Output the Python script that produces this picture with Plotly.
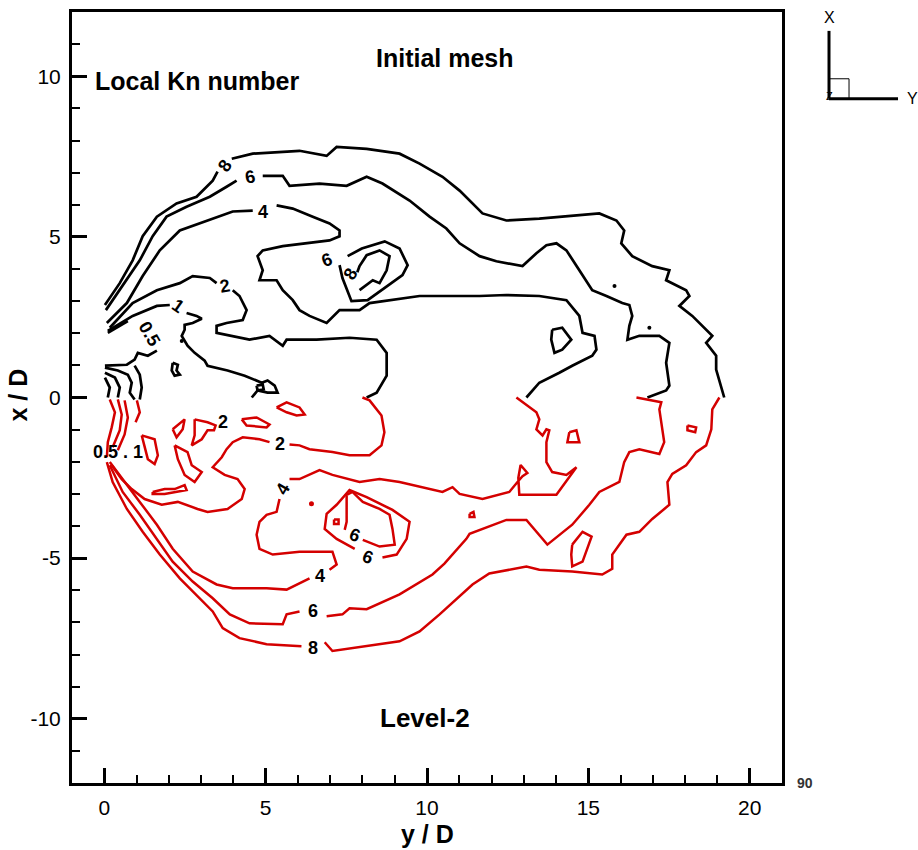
import plotly.graph_objects as go

# ---------------- data: contour lines, points are (y/D, x/D); None = label gap ----------------
black_8 = [(0.02,2.88),(0.48,3.56),(0.88,4.27),(1.19,5.02),(1.63,5.63),(2.24,6.04),(2.86,6.25),(3.36,6.75),(3.51,7.03),None,
           (3.95,7.43),(4.60,7.59),(6.05,7.68),(6.89,7.52),(7.20,7.80),(8.13,7.74),(9.15,7.59),(9.77,7.28),(10.48,6.87),
           (11.01,6.44),(11.72,5.73),(12.46,5.51),(13.48,5.57),(15.34,5.73),(15.87,5.51),(16.11,5.20),(16.02,4.80),
           (16.36,4.40),(16.98,4.09),(17.51,3.96),(17.41,3.65),(18.03,3.34),(18.13,3.16),(17.82,2.85),(18.22,2.54),
           (18.65,2.11),(18.84,1.92),(18.65,1.70),(18.96,1.30),(18.96,0.87),(19.21,0.0)]
black_6 = [(0.05,2.72),(0.57,3.47),(1.10,4.27),(1.50,5.02),(1.93,5.63),(2.55,5.94),(3.27,6.25),(3.79,6.56),(4.10,6.75),None,
           (4.91,6.90),(5.53,6.90),(5.74,6.59),(6.67,6.66),(7.51,6.59),(8.13,6.87),(8.62,6.66),(9.46,6.13),(10.08,5.63),
           (10.60,5.26),(11.01,4.80),(11.63,4.40),(12.15,4.24),(12.96,4.09),(13.39,4.49),(13.70,4.74),(14.01,4.80),
           (14.32,4.58),(14.72,3.96),(15.12,3.34),(15.56,3.16),(16.05,2.94),(16.27,2.88),(16.36,2.54),(16.27,2.23),
           (16.21,1.80),(16.58,1.92),(17.20,1.92),(17.51,1.70),(17.41,1.08),(17.51,0.37),(17.41,0.22),(16.83,0.0)]
black_4 = [(0.08,2.32),(0.70,2.94),(1.19,3.78),(1.72,4.58),(2.34,5.20),(3.17,5.51),(3.98,5.79),(4.60,5.82),None,
           (5.34,5.98),(5.84,5.88),(6.46,5.63),(6.98,5.42),(7.29,5.20),(7.29,5.02),(6.98,4.89),(6.27,4.80),(5.53,4.71),
           (4.91,4.58),(4.75,4.40),(4.91,3.96),(4.81,3.65),(5.34,3.65),(5.53,3.34),(5.84,3.03),(6.05,2.72),(6.36,2.54),
           (6.89,2.32),(7.29,2.72),(7.91,2.72),(8.22,2.94),(8.93,3.03),(9.77,3.16),(10.48,3.16),(11.63,3.16),
           (12.46,3.19),(13.48,3.16),(14.32,3.03),(14.72,2.54),(14.82,2.01),(15.19,1.92),(15.25,1.49),(15.12,1.30),
           (14.50,0.99),(14.10,0.77),(13.48,0.46),(13.08,0.0)]
black_2 = [(0.17,2.17),(0.88,2.94),(1.63,3.34),(2.34,3.56),(2.74,3.78),(3.27,3.72),(3.48,3.56),None,
           (3.98,3.34),(4.19,3.16),(4.41,2.72),(4.29,2.41),(3.79,2.32),(3.48,2.23),(3.48,2.01),(3.89,1.92),(4.50,1.80),
           (5.12,1.92),(5.53,1.61),(5.65,1.80),(6.58,1.80),(7.60,1.86),(8.44,1.80),(8.75,1.39),(8.75,0.68),
           (8.44,0.15),(8.13,0.0)]
black_1 = [(0.11,2.07),(0.88,2.54),(1.63,2.85),(2.03,2.88),None,
           (2.55,2.63),(2.86,2.54),(3.02,2.45),(2.74,2.32),(2.49,2.26),(2.49,2.11),(2.40,1.92),(2.58,1.61),(2.80,1.39),
           (3.11,1.15),(3.20,0.99),(3.82,0.84),(4.35,0.68),(4.88,0.46),(5.06,0.53),(5.28,0.37),(5.37,0.15),
           (5.06,0.15),(4.75,0.22),(4.57,0.0)]
black_05 = [(0.11,2.01),(0.73,2.38),None,(1.63,1.46),(1.35,1.30),(1.04,1.39),(0.94,1.18),(0.70,1.02),(0.02,0.99)]
black_root_a = [(0.02,0.93),(0.42,0.84),(0.73,0.71),(0.85,0.46),(0.79,0.15),(0.94,-0.06)]
black_root_b = [(0.02,0.77),(0.33,0.62),(0.48,0.31),(0.42,0.0)]
black_root_c = [(0.02,0.62),(0.17,0.31),(0.11,0.0)]
black_root_d = [(0.94,0.99),(1.10,0.71),(1.16,0.31),(1.10,-0.06)]
black_isle_6 = [(7.29,4.12),(7.38,3.72),(7.66,3.00),(8.16,3.03),(8.69,3.41),(9.24,3.81),(9.40,4.12),(9.15,4.64),
                (8.69,4.86),(7.98,4.64),(7.54,4.40)]
black_isle_8 = [(7.91,3.34),(8.32,3.65),(8.53,3.56),(8.75,3.96),(8.84,4.40),(8.53,4.58),(8.13,4.43),(7.91,4.09),(7.84,3.90)]
black_loop_r = [(13.88,2.11),(14.19,2.17),(14.47,1.80),(14.19,1.49),(13.95,1.39),(13.85,1.80),(13.88,2.11)]
black_blob_a = [(2.12,1.08),(2.28,1.02),(2.24,0.84),(2.34,0.71),(2.18,0.68),(2.09,0.84),(2.12,1.08)]
black_blob_b = [(4.72,0.37),(4.91,0.40),(4.94,0.25),(4.75,0.22),(4.72,0.37)]
black_dots = [(15.81,3.47),(16.89,2.17),(2.40,1.76)]

red_8 = [(19.06,0.0),(18.84,-0.37),(18.81,-0.99),(18.65,-1.49),(18.34,-1.70),(18.03,-2.11),(17.60,-2.38),(17.45,-2.63),
         (17.51,-3.34),(16.98,-3.78),(16.58,-4.18),(16.18,-4.27),(15.74,-4.89),(15.74,-5.33),(15.43,-5.51),(14.50,-5.42),
         (13.48,-5.36),(13.08,-5.26),(11.93,-5.48),(11.41,-5.82),(10.39,-6.75),(9.77,-7.28),(9.15,-7.59),(7.60,-7.80),
         (7.07,-7.89),(6.83,-7.62),None,(6.11,-7.74),(5.03,-7.68),(4.19,-7.49),(3.67,-7.18),(3.36,-6.66),(2.96,-6.25),
         (2.34,-5.63),(1.72,-4.89),(1.19,-4.18),(0.70,-3.47),(0.26,-2.63),(0.08,-2.01)]
red_6 = [(0.17,-2.11),(0.57,-2.94),(1.10,-3.65),(1.63,-4.40),(2.12,-5.11),(2.74,-5.73),(3.36,-6.25),(3.89,-6.75),
         (4.50,-7.03),(5.53,-7.06),(5.65,-6.75),(6.05,-6.66),None,(6.89,-6.81),(7.38,-6.75),(7.60,-6.56),(8.13,-6.59),
         (9.15,-6.13),(10.17,-5.51),(10.54,-5.17),(11.22,-4.40),(11.32,-4.24),(12.46,-3.81),(13.08,-3.81),(13.73,-4.58),
         (14.50,-3.96),(15.03,-3.34),(15.34,-2.94),(15.96,-2.63),(16.11,-2.01),(16.27,-1.70),(16.58,-1.61),(17.20,-1.76),
         (17.35,-1.39),(17.20,-0.37),(17.26,-0.15),(16.49,0.0)]
red_4 = [(12.77,0.0),(13.39,-0.46),(13.48,-0.68),(13.39,-0.99),(13.58,-1.18),(13.70,-0.99),(13.79,-1.02),(13.70,-1.39),
         (13.70,-2.01),(13.88,-2.32),(14.32,-2.41),(14.63,-2.17),(14.01,-3.03),(12.86,-3.03),(12.83,-2.50),(12.90,-2.10),
         (13.11,-2.35),(12.96,-2.45),(12.83,-2.60),(12.55,-2.94),(11.72,-3.16),(11.01,-3.00),(10.79,-2.79),(10.48,-2.94),
         (9.15,-2.63),(8.53,-2.54),(7.91,-2.63),(7.07,-2.41),(6.67,-2.26),(6.05,-2.54),(5.74,-2.54),None,
         (5.43,-3.16),(5.34,-3.56),(5.03,-3.65),(4.81,-3.87),(4.72,-4.27),(4.81,-4.71),(5.22,-4.89),(6.05,-4.80),
         (7.07,-4.80),(7.20,-5.20),(6.98,-5.36),None,(6.36,-5.63),(5.65,-5.98),(5.03,-5.94),(3.98,-5.94),(3.48,-5.82),
         (2.74,-5.42),(2.12,-4.71),(1.63,-3.96),(1.10,-3.25),(0.57,-2.54),(0.17,-2.01)]
red_2 = [(8.00,0.0),(8.22,-0.09),(8.59,-0.56),(8.68,-1.08),(8.59,-1.49),(8.22,-1.80),(7.60,-1.80),(7.07,-1.70),
         (6.36,-1.61),(6.05,-1.49),(5.74,-1.46),None,(5.12,-1.39),(4.81,-1.30),(4.29,-1.24),(3.98,-1.39),(3.79,-1.61),
         (3.64,-1.86),(3.36,-2.17),(3.73,-2.41),(4.13,-2.54),(4.35,-2.85),(4.26,-3.16),(3.82,-3.47),(3.20,-3.56),
         (2.89,-3.47),(2.28,-3.25),(1.78,-3.34),(1.25,-3.16),(0.85,-2.85),(0.54,-2.54),(0.23,-2.11)]
red_root_a = [(0.17,-0.06),(0.33,-0.46),(0.23,-0.93),(0.11,-1.39),(0.08,-1.86)]
red_root_b = [(0.42,-0.06),(0.54,-0.53),(0.48,-1.02),(0.26,-1.55)]
red_root_c = [(0.63,-0.09),(0.73,-0.62),(0.63,-1.15),(0.42,-1.64)]
red_root_d = [(1.01,-0.09),(1.10,-0.46),(0.97,-0.77)]
red_isle_a = [(1.16,-1.18),(1.56,-1.30),(1.66,-1.80),(1.56,-2.07),(1.35,-1.92),(1.25,-1.49),(1.16,-1.18)]
red_isle_b = [(2.12,-0.99),(2.49,-0.68),(2.43,-0.99),(2.24,-1.24),(2.12,-0.99)]
red_isle_c = [(2.80,-0.68),(3.20,-0.77),(3.45,-0.87),(3.40,-1.02),(3.20,-1.02),(3.02,-1.30),(2.71,-1.49),(2.80,-1.18),(2.80,-0.68)]
red_isle_d = [(4.26,-0.68),(4.72,-0.62),(5.12,-0.84),(5.03,-0.93),(4.41,-0.87),(4.26,-0.68)]
red_isle_e = [(5.34,-0.31),(5.65,-0.15),(6.05,-0.31),(6.21,-0.53),(5.96,-0.56),(5.65,-0.46),(5.34,-0.31)]
red_isle_f = [(2.18,-1.49),(2.58,-1.70),(2.71,-2.11),(3.02,-2.32),(2.80,-2.63),(2.49,-2.41),(2.28,-1.92),(2.18,-1.49)]
red_isle_g = [(1.50,-2.94),(1.87,-2.85),(2.18,-2.85),(2.49,-2.73),(2.55,-2.88),(2.18,-2.94),(1.87,-3.00),(1.50,-3.00),(1.50,-2.94)]
red_isle_h = [(14.41,-1.08),(14.63,-1.02),(14.72,-1.39),(14.35,-1.39),(14.41,-1.08)]
red_isle_i = [(18.07,-0.87),(18.34,-0.93),(18.31,-1.08),(18.07,-1.02),(18.07,-0.87)]
red_isle_j = [(11.32,-3.62),(11.44,-3.56),(11.47,-3.72),(11.32,-3.72),(11.32,-3.62)]
red_isle_k = [(14.50,-4.58),(14.82,-4.18),(15.10,-4.33),(14.94,-4.74),(14.82,-5.11),(14.50,-5.26),(14.47,-4.89),(14.50,-4.58)]
red_isle_l = [(7.12,-3.80),(7.26,-3.80),(7.26,-3.94),(7.12,-3.94),(7.12,-3.80)]
red_isle_6_outer = [(8.62,-4.98),(9.06,-4.89),(9.37,-4.40),(9.46,-3.87),(8.93,-3.50),(8.13,-3.10),(7.60,-2.88),
                    (7.20,-3.34),(6.89,-3.62),(6.83,-4.09),(7.20,-4.40),(7.76,-4.71)]
red_isle_6_inner = [(8.01,-4.43),(8.53,-4.64),(9.00,-4.58),(8.93,-4.09),(8.84,-3.65),(8.53,-3.47),(8.01,-3.25),
                    (7.69,-2.94),(7.51,-3.03),(7.51,-3.47),(7.51,-3.87),(7.45,-4.12)]
red_dots = [(6.42,-3.31)]

# contour labels: text, y/D, x/D, angle
label_text  = ["8", "6", "4", "2", "6", "8", "1", "0.5", "2", "2", "0.5 . 1", "4", "6", "6", "4", "6", "8"]
label_yd    = [3.73, 4.50, 4.91, 3.73, 6.89, 7.62, 2.28, 1.41, 3.67, 5.43, 0.42, 5.53, 7.76, 8.16, 6.67, 6.46, 6.46]
label_xd    = [7.21, 6.87, 5.79, 3.47, 4.27, 3.86, 2.85, 1.98, -0.77, -1.46, -1.70, -2.85, -4.27, -4.95, -5.57, -6.66, -7.80]
label_angle = [-55, -10, 0, -10, -20, -60, 35, 60, 0, 0, 0, -60, 20, 20, 0, 0, 0]

x_ticks = [0, 5, 10, 15, 20]
x_tick_text = ["0", "5", "10", "15", "20"]
y_ticks = [-10, -5, 0, 5, 10]
y_tick_text = ["-10", "-5", "0", "5", "10"]

BLACK = "black"
RED = "#d40000"
FONT = "Liberation Sans, Arial, sans-serif"

fig = go.Figure()


def add_line(points, color, width=2.4):
    xs, ys = [], []
    for p in points:
        if p is None:
            xs.append(None); ys.append(None)
        else:
            xs.append(p[0]); ys.append(p[1])
    fig.add_trace(go.Scatter(x=xs, y=ys, mode="lines", line=dict(color=color, width=width),
                             hoverinfo="skip", showlegend=False, connectgaps=False))


for line in [black_8, black_6, black_4, black_2, black_1, black_05, black_root_a, black_root_b,
             black_root_c, black_root_d, black_isle_6, black_isle_8, black_loop_r, black_blob_a, black_blob_b]:
    add_line(line, BLACK, 2.7)

for line in [red_8, red_6, red_4, red_2, red_root_a, red_root_b, red_root_c, red_root_d,
             red_isle_a, red_isle_b, red_isle_c, red_isle_d, red_isle_e, red_isle_f, red_isle_g,
             red_isle_h, red_isle_i, red_isle_j, red_isle_k, red_isle_l, red_isle_6_outer, red_isle_6_inner]:
    add_line(line, RED, 2.5)

fig.add_trace(go.Scatter(x=[p[0] for p in black_dots], y=[p[1] for p in black_dots], mode="markers",
                         marker=dict(color=BLACK, size=4), hoverinfo="skip", showlegend=False))
fig.add_trace(go.Scatter(x=[p[0] for p in red_dots], y=[p[1] for p in red_dots], mode="markers",
                         marker=dict(color=RED, size=5), hoverinfo="skip", showlegend=False))

annotations = []
for t, xv, yv, a in zip(label_text, label_yd, label_xd, label_angle):
    annotations.append(dict(x=xv, y=yv, xref="x", yref="y", text="<b>%s</b>" % t, showarrow=False,
                            textangle=a, font=dict(family=FONT, size=18, color="black"),
                            xanchor="center", yanchor="middle"))

# titles inside the plot
annotations += [
    dict(x=-0.35, y=9.86, xref="x", yref="y", text="<b>Local Kn number</b>", showarrow=False,
         xanchor="left", yanchor="middle", font=dict(family=FONT, size=25, color="black")),
    dict(x=10.56, y=10.57, xref="x", yref="y", text="<b>Initial mesh</b>", showarrow=False,
         xanchor="center", yanchor="middle", font=dict(family=FONT, size=25, color="black")),
    dict(x=9.93, y=-9.98, xref="x", yref="y", text="<b>Level-2</b>", showarrow=False,
         xanchor="center", yanchor="middle", font=dict(family=FONT, size=26, color="black")),
    # axis titles
    dict(x=0.5, y=-0.0659, xref="paper", yref="paper", text="<b>y / D</b>", showarrow=False,
         xanchor="center", yanchor="middle", font=dict(family=FONT, size=25, color="black")),
    dict(x=-0.076, y=0.5026, xref="paper", yref="paper", text="<b>x / D</b>", showarrow=False,
         textangle=-90, xanchor="center", yanchor="middle", font=dict(family=FONT, size=25, color="black")),
    # axis triad labels
    dict(x=1.0662, y=0.9935, xref="paper", yref="paper", text="X", showarrow=False,
         xanchor="center", yanchor="middle", font=dict(family=FONT, size=16, color="black")),
    dict(x=1.1845, y=0.8876, xref="paper", yref="paper", text="Y", showarrow=False,
         xanchor="center", yanchor="middle", font=dict(family=FONT, size=16, color="black")),
    dict(x=1.0662, y=0.8915, xref="paper", yref="paper", text="Z", showarrow=False,
         xanchor="center", yanchor="middle", font=dict(family=FONT, size=11, color="black")),
    dict(x=1.0324, y=0.0, xref="paper", yref="paper", text="<b>90</b>", showarrow=False,
         xanchor="center", yanchor="middle", font=dict(family=FONT, size=14, color="#333333")),
]

shapes = [
    dict(type="line", xref="paper", yref="paper", x0=1.0662, y0=0.9755, x1=1.0662, y1=0.8876,
         line=dict(color="black", width=3)),
    dict(type="line", xref="paper", yref="paper", x0=1.0662, y0=0.8876, x1=1.1634, y1=0.8876,
         line=dict(color="black", width=3)),
    dict(type="rect", xref="paper", yref="paper", x0=1.0662, y0=0.8876, x1=1.0944, y1=0.9134,
         line=dict(color="black", width=1)),
]

axis_common = dict(showgrid=False, zeroline=False, showline=True, linecolor="black", linewidth=3,
                   mirror=True, ticks="inside", ticklen=15, tickwidth=3, tickcolor="black",
                   tickfont=dict(family=FONT, size=21, color="black"), ticklabelstandoff=4,
                   minor=dict(ticks="inside", ticklen=8, tickwidth=1.5, tickcolor="black", dtick=1, showgrid=False))

fig.update_layout(
    width=918, height=850,
    margin=dict(l=72, r=136, t=9, b=67),
    paper_bgcolor="white", plot_bgcolor="white",
    xaxis=dict(range=[-1, 21], tickmode="array", tickvals=x_ticks, ticktext=x_tick_text, **axis_common),
    yaxis=dict(range=[-12, 12], tickmode="array", tickvals=y_ticks, ticktext=y_tick_text, **axis_common),
    annotations=annotations, shapes=shapes, showlegend=False,
)

fig.write_html("out.html", config={"displayModeBar": False},
               post_script="document.body.style.margin='0';document.body.style.padding='0';document.body.style.overflow='hidden';")
